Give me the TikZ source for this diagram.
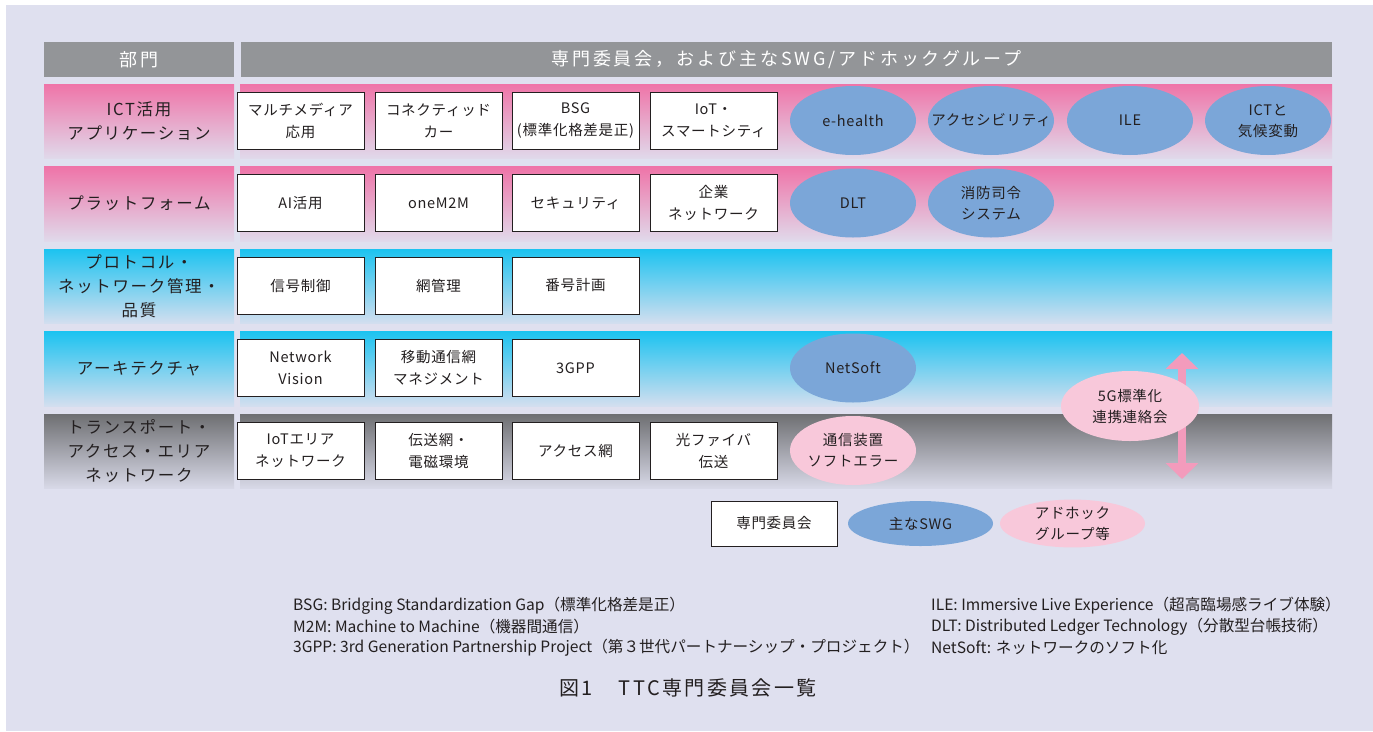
\documentclass[tikz,border=0pt]{standalone}
\usepackage{fontspec}
\setmainfont{Noto Sans CJK JP}
\newfontfamily\jpA[LetterSpace=5]{Noto Sans CJK JP}
\newfontfamily\jpB[LetterSpace=10]{Noto Sans CJK JP}
\newfontfamily\jpC[LetterSpace=16]{Noto Sans CJK JP}
\newfontfamily\jpD[LetterSpace=12]{Noto Sans CJK JP}
\usetikzlibrary{shapes.geometric,arrows.meta}
\definecolor{bgc}{HTML}{DFE0EF}
\definecolor{hgray}{HTML}{939598}
\definecolor{pinkT}{HTML}{EF74A8}
\definecolor{cyanT}{HTML}{1CC3F0}
\definecolor{grayT}{HTML}{6E6F72}
\definecolor{bluee}{HTML}{7BA6D8}
\definecolor{pinke}{HTML}{F8C8DA}
\definecolor{arrowc}{HTML}{F39BBC}
\definecolor{ink}{HTML}{231F20}
\tikzset{
  hdr/.style={fill=hgray, text=white, minimum height=35pt, inner sep=0pt, font=\jpC\fontsize{18}{20}\selectfont},
  lab/.style={minimum width=190pt, minimum height=74.5pt, inner sep=0pt, align=center, text=ink, font=\jpB\fontsize{16.5}{24}\selectfont},
  band/.style={minimum width=1092pt, minimum height=74.5pt, inner sep=0pt},
  pinkrow/.style={top color=pinkT, bottom color=pinkT!6!bgc},
  cyanrow/.style={top color=cyanT, bottom color=cyanT!6!bgc},
  grayrow/.style={top color=grayT, bottom color=grayT!6!bgc},
  wbox/.style={draw=ink, line width=1pt, fill=white, minimum width=127pt, minimum height=57pt, inner sep=0pt, align=center, text=ink, font=\jpA\fontsize{14.5}{22}\selectfont},
  bell/.style={ellipse, fill=bluee, minimum width=126pt, minimum height=69pt, inner xsep=-30pt, inner ysep=0pt, align=center, text=ink, font=\jpA\fontsize{14.5}{21}\selectfont},
  pell/.style={bell, fill=pinke},
  note/.style={anchor=west, inner sep=0pt, text=ink, font=\fontsize{15.6}{18}\selectfont}
}
\begin{document}
\begin{tikzpicture}[x=1pt,y=-1pt]
\useasboundingbox (0,0) rectangle (1373,731);
\fill[white] (0,0) rectangle (1373,731);
\fill[bgc] (6,5) rectangle (1373,731);
% header
\node[hdr, minimum width=190pt] (hL) at (139,59.5) {部門};
\node[hdr, minimum width=1091pt] (hR) at (786.5,59.5) {専門委員会，および主なSWG/アドホックグループ};
% rows: bands
\node[band, pinkrow] (B1) at (786,121.25) {};
\node[band, pinkrow] (B2) at (786,203.75) {};
\node[band, cyanrow] (B3) at (786,286.25) {};
\node[band, cyanrow] (B4) at (786,368.75) {};
\node[band, grayrow] (B5) at (786,451.25) {};
% row labels
\node[lab, pinkrow] (L1) at (139,121.25) {ICT活用\\アプリケーション};
\node[lab, pinkrow] (L2) at (139,203.75) {プラットフォーム};
\node[lab, cyanrow] (L3) at (139,286.25) {プロトコル・\\ネットワーク管理・\\品質};
\node[lab, cyanrow] (L4) at (139,368.75) {アーキテクチャ};
\node[lab, grayrow] (L5) at (139,451.25) {トランスポート・\\アクセス・エリア\\ネットワーク};
% row 1
\node[wbox] (b11) at (300.5,120.5) {マルチメディア\\応用};
\node[wbox] (b12) at (438.5,120.5) {コネクティッド\\カー};
\node[wbox] (b13) at (575.5,120.5) {BSG\\(標準化格差是正)};
\node[wbox] (b14) at (713.5,120.5) {IoT・\\スマートシティ};
\node[bell] (e11) at (853,120.5) {e-health};
\node[bell] (e12) at (991,120.5) {アクセシビリティ};
\node[bell] (e13) at (1130,120.5) {ILE};
\node[bell] (e14) at (1268,120.5) {ICTと\\気候変動};
% row 2
\node[wbox] (b21) at (300.5,203) {AI活用};
\node[wbox] (b22) at (438.5,203) {oneM2M};
\node[wbox] (b23) at (575.5,203) {セキュリティ};
\node[wbox] (b24) at (713.5,203) {企業\\ネットワーク};
\node[bell] (e21) at (853,203) {DLT};
\node[bell] (e22) at (991,203) {消防司令\\システム};
% row 3
\node[wbox] (b31) at (300.5,285.5) {信号制御};
\node[wbox] (b32) at (438.5,285.5) {網管理};
\node[wbox] (b33) at (575.5,285.5) {番号計画};
% row 4
\node[wbox] (b41) at (300.5,368) {Network\\Vision};
\node[wbox] (b42) at (438.5,368) {移動通信網\\マネジメント};
\node[wbox] (b43) at (575.5,368) {3GPP};
\node[bell] (e41) at (853,368) {NetSoft};
% row 5
\node[wbox] (b51) at (300.5,450.5) {IoTエリア\\ネットワーク};
\node[wbox] (b52) at (438.5,450.5) {伝送網・\\電磁環境};
\node[wbox] (b53) at (575.5,450.5) {アクセス網};
\node[wbox] (b54) at (713.5,450.5) {光ファイバ\\伝送};
\node[pell] (e51) at (853,450.5) {通信装置\\ソフトエラー};
% 5G arrow and ellipse
\coordinate (a5t) at (1182,353);
\coordinate (a5b) at (1182,479);
\draw[arrowc, line width=8pt, {Triangle[width=32pt,length=16pt]}-{Triangle[width=32pt,length=16pt]}] (a5t) -- (a5b);
\node[pell, minimum width=138pt, minimum height=70pt] (e5g) at (1130,406) {5G標準化\\連携連絡会};
% legend
\node[wbox, minimum width=126pt, minimum height=45pt] (lg1) at (774,523.5) {専門委員会};
\node[bell, minimum width=145pt, minimum height=45pt] (lg2) at (920.5,523.5) {主なSWG};
\node[pell, minimum width=145pt, minimum height=45pt] (lg3) at (1072.5,523.5) {アドホック\\グループ等};
% notes
\node[note] (n1) at (293,606) {BSG: Bridging Standardization Gap（標準化格差是正）};
\node[note] (n2) at (293,627) {M2M: Machine to Machine（機器間通信）};
\node[note] (n3) at (293,648) {3GPP: 3rd Generation Partnership Project（第３世代パートナーシップ・プロジェクト）};
\node[note] (n4) at (931,606) {ILE: Immersive Live Experience（超高臨場感ライブ体験）};
\node[note] (n5) at (931,627) {DLT: Distributed Ledger Technology（分散型台帳技術）};
\node[note] (n6) at (931,648) {NetSoft: ネットワークのソフト化};
\node[inner sep=0pt, text=ink, font=\jpD\fontsize{20}{22}\selectfont] (cap) at (688,688) {図1\hspace{26pt}TTC専門委員会一覧};
\end{tikzpicture}
\end{document}
